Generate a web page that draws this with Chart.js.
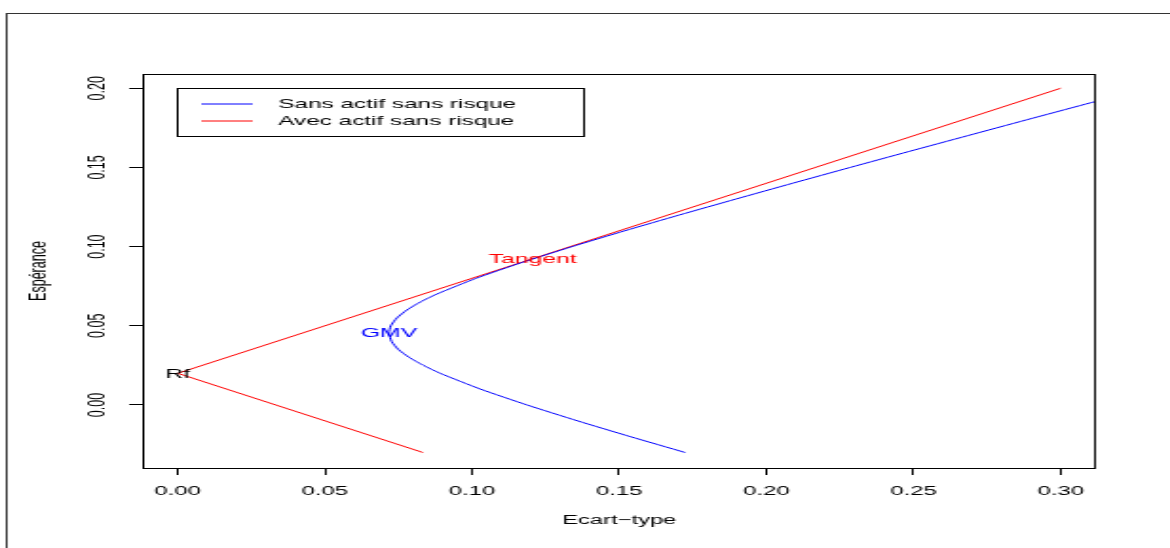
<!DOCTYPE html>
<html>
<head>
<meta charset="utf-8">
<script src="https://cdn.jsdelivr.net/npm/chart.js@4"></script>
<style>
  html, body { margin: 0; padding: 0; background: #fff; overflow: hidden; }
  /* the reference is an R plot stretched sideways, so draw narrow and stretch */
  #wrap { width: 616px; height: 548px; transform: scaleX(1.8994); transform-origin: 0 0; }
</style>
</head>
<body>
<div id="wrap"><canvas id="chart"></canvas></div>
<script>
// efficient frontier without the risk-free asset
const frontierSigma = [0.1724, 0.1538, 0.1358, 0.1187, 0.1029, 0.0892, 0.0835, 0.0787, 0.0750, 0.0727, 0.0718,
  0.0724, 0.0745, 0.0779, 0.0824, 0.0880, 0.1014, 0.1170, 0.1340, 0.1519, 0.1705, 0.1896, 0.2089, 0.2285,
  0.2483, 0.2683, 0.2883, 0.3085, 0.3287]
const frontierMu = [-0.03, -0.02, -0.01, 0.00, 0.01, 0.02, 0.025, 0.03, 0.035, 0.04, 0.0455,
  0.05, 0.055, 0.06, 0.065, 0.07, 0.08, 0.09, 0.10, 0.11, 0.12, 0.13, 0.14, 0.15,
  0.16, 0.17, 0.18, 0.19, 0.20]

// frontier with the risk-free asset
const cmlSigma = [0.0833, 0.00, 0.30]
const cmlMu = [-0.03, 0.02, 0.20]

// labelled points
const pointNames = ['Rf', 'GMV', 'Tangent']
const pointSigma = [0.00, 0.0718, 0.1206]
const pointMu = [0.02, 0.0455, 0.0926]

const seriesNames = ['Sans actif sans risque', 'Avec actif sans risque']
const xTicks = [0.00, 0.05, 0.10, 0.15, 0.20, 0.25, 0.30]
const yTicks = [0.00, 0.05, 0.10, 0.15, 0.20]

const FONT = '"Liberation Sans", Arial, sans-serif'
const pointColors = ['#000000', '#0000ff', '#ff0000']

const toXY = (xs, ys) => xs.map((v, i) => ({ x: v, y: ys[i] }))

const decor = {
  id: 'decor',
  beforeDraw(chart) {
    const ctx = chart.ctx
    ctx.save()
    ctx.fillStyle = '#fff'
    ctx.fillRect(0, 0, chart.width, chart.height)
    ctx.restore()
  },
  afterDraw(chart) {
    const { ctx, chartArea: a, scales } = chart
    ctx.save()

    // outer frame
    ctx.strokeStyle = '#333'
    ctx.lineWidth = 1
    ctx.strokeRect(3.5, 13.5, chart.width + 20, chart.height + 20)

    // plot box
    ctx.strokeStyle = '#000'
    ctx.strokeRect(a.left + 0.5, a.top + 0.5, a.right - a.left - 1, a.bottom - a.top)

    // y tick labels, rotated like R
    ctx.fillStyle = '#000'
    ctx.font = '12.5px ' + FONT
    ctx.textAlign = 'center'
    ctx.textBaseline = 'middle'
    yTicks.forEach(v => {
      const py = scales.y.getPixelForValue(v)
      ctx.save()
      ctx.translate(52, py)
      ctx.rotate(-Math.PI / 2)
      ctx.fillText(v.toFixed(2), 0, 0)
      ctx.restore()
    })

    // axis titles
    ctx.fillText('Ecart\u2212type', (a.left + a.right) / 2, 520.5)
    ctx.save()
    ctx.translate(20.5, (a.top + a.bottom) / 2)
    ctx.rotate(-Math.PI / 2)
    ctx.fillText('Espérance', 0, 0)
    ctx.restore()

    // legend
    ctx.strokeStyle = '#000'
    ctx.strokeRect(93.5, 88.5, 214, 48)
    ctx.font = '12.8px ' + FONT
    chart.data.datasets.slice(0, 2).forEach((ds, i) => {
      const ly = 104 + i * 17
      ctx.strokeStyle = ds.borderColor
      ctx.beginPath()
      ctx.moveTo(106, ly)
      ctx.lineTo(133, ly)
      ctx.stroke()
      ctx.textAlign = 'left'
      ctx.fillStyle = '#000'
      ctx.fillText(ds.label, 146.5, ly + 0.5)
    })

    // point labels
    const meta = chart.getDatasetMeta(2)
    ctx.textAlign = 'center'
    ctx.font = '13px ' + FONT
    meta.data.forEach((el, i) => {
      ctx.fillStyle = pointColors[i]
      ctx.fillText(pointNames[i], el.x, el.y + 1)
    })

    ctx.restore()
  }
}

new Chart(document.getElementById('chart'), {
  type: 'scatter',
  data: {
    datasets: [
      {
        label: seriesNames[0],
        data: toXY(frontierSigma, frontierMu),
        showLine: true,
        borderColor: '#0000ff',
        borderWidth: 1,
        pointRadius: 0,
        tension: 0.2
      },
      {
        label: seriesNames[1],
        data: toXY(cmlSigma, cmlMu),
        showLine: true,
        borderColor: '#ff0000',
        borderWidth: 1,
        pointRadius: 0
      },
      {
        label: 'labels',
        data: toXY(pointSigma, pointMu),
        pointRadius: 0,
        showLine: false
      }
    ]
  },
  options: {
    responsive: true,
    maintainAspectRatio: false,
    animation: false,
    layout: { padding: { top: 74, right: 39, left: 0, bottom: 0 } },
    plugins: {
      legend: { display: false },
      tooltip: { enabled: false }
    },
    scales: {
      x: {
        type: 'linear',
        min: -0.01197,
        max: 0.312,
        afterBuildTicks: (s) => { s.ticks = xTicks.map(v => ({ value: v })) },
        afterFit: (s) => { s.height = 80 },
        grid: { drawOnChartArea: false, drawTicks: true, tickLength: 7, tickColor: '#000', color: '#000' },
        border: { display: false },
        ticks: {
          autoSkip: false,
          maxRotation: 0,
          padding: 9,
          color: '#000',
          font: { family: FONT, size: 12.6 },
          callback: (v) => Number(v).toFixed(2)
        }
      },
      y: {
        type: 'linear',
        min: -0.0398,
        max: 0.209,
        afterBuildTicks: (s) => { s.ticks = yTicks.map(v => ({ value: v })) },
        afterFit: (s) => { s.width = 75 },
        grid: { drawOnChartArea: false, drawTicks: true, tickLength: 7, tickColor: '#000', color: '#000' },
        border: { display: false },
        ticks: { display: false }
      }
    }
  },
  plugins: [decor]
})
</script>
</body>
</html>
